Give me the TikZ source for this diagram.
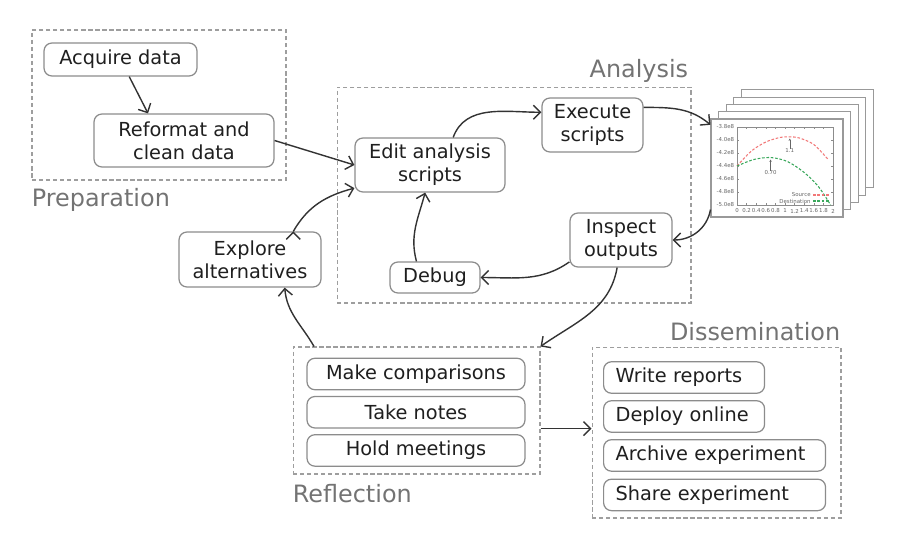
\documentclass[tikz,border=0pt]{standalone}
\usepackage{fontspec}
\setmainfont{DejaVu Sans}
\usepackage{tikz}
\usetikzlibrary{arrows.meta,positioning}

\definecolor{srcred}{HTML}{F27878}
\definecolor{dstgreen}{HTML}{3AA85C}

\begin{document}
\begin{tikzpicture}[x=0.02cm,y=-0.02cm,>={Straight Barb[length=4pt,width=8pt]}]

\tikzstyle{task}=[draw=black!45,line width=0.7pt,rounded corners=4.5pt,fill=white,text=black!88,align=center,font=\fontsize{11}{13}\selectfont,inner sep=0pt]
\tikzstyle{dissitem}=[task,align=left,inner xsep=0.24cm,anchor=west,minimum height=0.63cm]
\tikzstyle{groupbox}=[draw=black!38,line width=0.6pt,dash pattern=on 2.4pt off 1.6pt,inner sep=0pt]
\tikzstyle{grouplabel}=[text=black!55,font=\fontsize{13.6}{16}\selectfont,inner sep=0pt]
\tikzstyle{flow}=[->,draw=black!80,line width=0.8pt]
\tikzstyle{plotpage}=[draw=black!40,line width=0.6pt,fill=white,minimum width=2.64cm,minimum height=1.96cm,inner sep=0pt]
\tikzstyle{ticklabel}=[text=black!60,font=\fontsize{3.1}{3.1}\selectfont,inner sep=0pt]

\useasboundingbox (0,0) rectangle (916,559);

%groups
\node [groupbox,minimum width=5.08cm,minimum height=3cm] (prep) at (159,105) {};
\node [groupbox,minimum width=7.08cm,minimum height=4.32cm] (ana) at (514,195) {};
\node [groupbox,minimum width=4.94cm,minimum height=2.54cm] (refl) at (416.5,410.5) {};
\node [groupbox,minimum width=4.98cm,minimum height=3.42cm] (diss) at (716.5,432.5) {};

\node [grouplabel,below right=0.15cm and 0cm of prep.south west] (preplabel) {Preparation};
\node [grouplabel,above left=0.07cm and 0.06cm of ana.north east] (analabel) {Analysis};
\node [grouplabel,below right=0.18cm and 0cm of refl.south west] (refllabel) {Reflection};
\node [grouplabel,above left=0.1cm and 0.02cm of diss.north east] (disslabel) {Dissemination};

%preparation
\node [task,minimum width=3.06cm,minimum height=0.66cm] (acq) at (120.5,59.5) {Acquire data};
\node [task,minimum width=3.6cm,minimum height=1.06cm] (refm) at (184,140.5) {Reformat and\\clean data};

%analysis
\node [task,minimum width=3cm,minimum height=1.08cm] (edit) at (430,165) {Edit analysis\\scripts};
\node [task,minimum width=2.02cm,minimum height=1.08cm] (exec) at (592.5,125) {Execute\\scripts};
\node [task,minimum width=2.04cm,minimum height=1.08cm] (insp) at (621,240) {Inspect\\outputs};
\node [task,minimum width=1.8cm,minimum height=0.62cm] (debug) at (435,277.5) {Debug};
\node [task,minimum width=2.84cm,minimum height=1.1cm] (expl) at (250,259.5) {Explore\\alternatives};

%reflection
\node [task,minimum width=4.36cm,minimum height=0.63cm] (mc) at (416,374) {Make comparisons};
\node [task,minimum width=4.36cm,minimum height=0.63cm,below=0.11cm of mc] (tn) {Take notes};
\node [task,minimum width=4.36cm,minimum height=0.63cm,below=0.11cm of tn] (hm) {Hold meetings};

%dissemination
\node [dissitem,text width=2.74cm] (wr) at (603,377.5) {Write reports};
\node [dissitem,text width=2.74cm,below right=0.125cm and 0cm of wr.south west] (deploy) {Deploy online};
\node [dissitem,text width=3.96cm,below right=0.125cm and 0cm of deploy.south west] (ae) {Archive experiment};
\node [dissitem,text width=3.96cm,below right=0.135cm and 0cm of ae.south west] (se) {Share experiment};

%output plots
\foreach \k in {4,3,2,1}
  \node [plotpage] (page\k) at (777+7.6*\k,168-7.3*\k) {};
\node [plotpage] (plot) at (777,168) {};

\draw [black!45,line width=0.4pt] (737,127) rectangle (833,205);
\foreach \v/\t in {0/-3.8e8,1/-4.0e8,2/-4.2e8,3/-4.4e8,4/-4.6e8,5/-4.8e8,6/-5.0e8} {
  \draw [black!45,line width=0.3pt] (737,127+13*\v) -- (739,127+13*\v) (833,127+13*\v) -- (831,127+13*\v);
  \node [ticklabel,anchor=east] (yl\v) at (734.5,127+13*\v) {\t};
}
\foreach \i/\t in {0/0,1/0.2,2/0.4,3/0.6,4/0.8,5/1,6/1.2,7/1.4,8/1.6,9/1.8,10/2} {
  \draw [black!45,line width=0.3pt] (737+9.6*\i,205) -- (737+9.6*\i,203) (737+9.6*\i,127) -- (737+9.6*\i,129);
  \node [ticklabel] (xl\i) at (737+9.6*\i,211) {\t};
}

\draw [srcred,line width=0.6pt,dash pattern=on 1.5pt off 1pt] plot[smooth] coordinates {(737,166) (751.4,151) (765.8,142) (780.2,137.4) (789.8,136.8) (799.4,138) (813.8,144.5) (828.2,159.5)};
\draw [dstgreen,line width=0.6pt,dash pattern=on 1.5pt off 1pt] plot[smooth] coordinates {(737,166) (753.8,159.5) (770.6,157.5) (787.4,161.5) (804.2,172.5) (818.6,186.8) (830.6,205)};

\coordinate (srcpeak) at (789.8,138.5);
\coordinate (dstpeak) at (770.6,159.5);
\node [ticklabel] (srclab) at (789.8,151) {1.1};
\node [ticklabel] (dstlab) at (770.6,173) {0.70};
\draw [->,black!60,line width=0.3pt,>={Stealth[length=1.3pt,width=1.3pt]}] (srclab.north) -- (srcpeak);
\draw [->,black!60,line width=0.3pt,>={Stealth[length=1.3pt,width=1.3pt]}] (dstlab.north) -- (dstpeak);

\node [ticklabel,anchor=east] (srcleg) at (811,195) {Source};
\node [ticklabel,anchor=east] (dstleg) at (811,201) {Destination};
\draw [srcred,line width=0.6pt,dash pattern=on 1.5pt off 1pt] (813,195) -- (830,195);
\draw [dstgreen,line width=0.6pt,dash pattern=on 1.5pt off 1pt] (813,201) -- (830,201);

%connectors
\path [flow] (acq.-63) edge (refm.143)
      (refm.east) edge (edit.west)
      (edit.50) edge [out=70,in=180] (exec.166)
      (exec.19) edge [out=0,in=140] (plot.147)
      (plot.212) edge [out=-100,in=0] (insp.east)
      (insp.203) edge [out=215,in=0] (debug.east)
      (debug.139) edge [out=105,in=-105] (edit.260)
      (insp.262) edge [out=-100,in=35] (refl.north east)
      (refl.148) edge [out=120,in=-85] (expl.-39)
      (expl.33) edge [out=60,in=195] (edit.197);
\draw [flow] (refl.east |- tn.south) -- (diss.west |- tn.south);

\end{tikzpicture}
\end{document}
